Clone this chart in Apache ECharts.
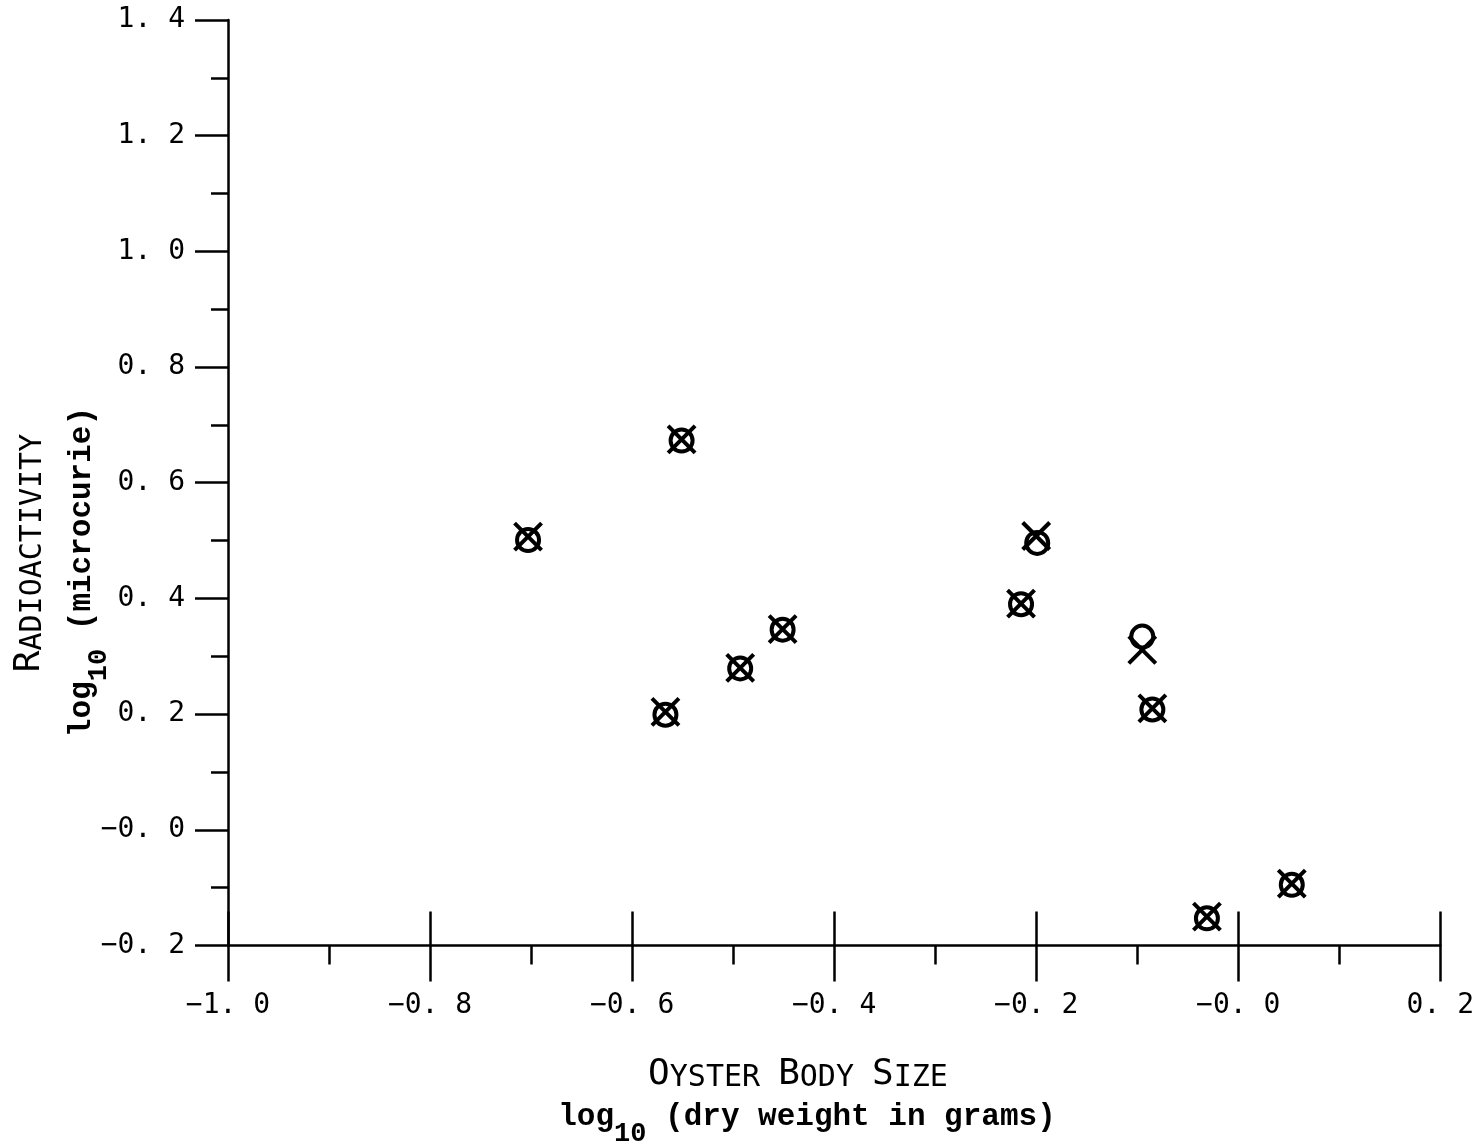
<!DOCTYPE html>
<html><head><meta charset="utf-8">
<script src="https://cdn.jsdelivr.net/npm/echarts@6/dist/echarts.min.js"></script>
<style>html,body{margin:0;padding:0;background:#fff}#c{width:1477px;height:1147px}</style>
</head><body><div id="c"></div>
<script>
// ---- data ----
const xMin = -1.0, xMax = 0.2, xStep = 0.2;
const yMin = -0.2, yMax = 1.4, yStep = 0.2;
const xTickLabels = ['−1. 0', '−0. 8', '−0. 6', '−0. 4', '−0. 2', '−0. 0', '0. 2'];
const yTickLabels = ['−0. 2', '−0. 0', '0. 2', '0. 4', '0. 6', '0. 8', '1. 0', '1. 2', '1. 4'];
// circle markers
const circleX = [-0.703, -0.551, -0.567, -0.493, -0.451, -0.215, -0.199, -0.095, -0.085, -0.031, 0.053];
const circleY = [0.501, 0.673, 0.199, 0.279, 0.346, 0.390, 0.496, 0.334, 0.208, -0.153, -0.095];
// cross markers
const crossX = [-0.703, -0.551, -0.567, -0.493, -0.451, -0.215, -0.200, -0.095, -0.085, -0.031, 0.053];
const crossY = [0.507, 0.675, 0.204, 0.280, 0.347, 0.391, 0.508, 0.311, 0.210, -0.150, -0.093];

const xTitleBig = ['O', 'B', 'S'];
const xTitleSmall = ['YSTER', 'ODY', 'IZE'];
const yTitleBig = 'R', yTitleSmall = 'ADIOACTIVITY';
const xSub = ['log', '10', ' (dry weight in grams)'];
const ySub = ['log', '10', ' (microcurie)'];

// ---- chart ----
const ink = '#000';
const capsFont = "'DejaVu Sans Mono', 'Liberation Mono', monospace";
const monoFont = "'Liberation Mono', 'DejaVu Sans Mono', monospace";
const tickFont = "'DejaVu Sans Mono', monospace";

function xLabel(v) { return xTickLabels[Math.round((v - xMin) / xStep)]; }
function yLabel(v) { return yTickLabels[Math.round((v - yMin) / yStep)]; }

const capsRich = {
  b: { fontFamily: capsFont, fontSize: 36, color: ink, verticalAlign: 'bottom' },
  s: { fontFamily: capsFont, fontSize: 30, color: ink, verticalAlign: 'bottom' }
};
const subRich = {
  a: { fontFamily: monoFont, fontSize: 31, fontWeight: 'bold', color: ink },
  d: { fontFamily: monoFont, fontSize: 27, fontWeight: 'bold', color: ink, padding: [34, 0, 0, 0] }
};

const chart = echarts.init(document.getElementById('c'), null, { renderer: 'canvas' });
chart.setOption({
  backgroundColor: '#fff',
  animation: false,
  grid: { left: 228, right: 36, top: 20, bottom: 201.5 },
  xAxis: [{
    type: 'value', min: xMin, max: xMax, interval: xStep, position: 'bottom',
    axisLine: { show: true, onZero: false, lineStyle: { color: ink, width: 2.5 } },
    axisTick: { show: true, length: 36, lineStyle: { color: ink, width: 2.5 } },
    minorTick: { show: true, splitNumber: 2, length: 19, lineStyle: { color: ink, width: 2.5 } },
    splitLine: { show: false },
    axisLabel: { margin: 46, color: ink, fontFamily: tickFont, fontSize: 28, formatter: xLabel }
  }, {
    type: 'value', min: xMin, max: xMax, interval: xStep, position: 'bottom',
    axisLine: { show: false, onZero: false },
    axisTick: { show: true, inside: true, length: 34, lineStyle: { color: ink, width: 2.5 } },
    splitLine: { show: false },
    axisLabel: { show: false }
  }],
  yAxis: {
    type: 'value', min: yMin, max: yMax, interval: yStep,
    axisLine: { show: true, onZero: false, lineStyle: { color: ink, width: 2.5 } },
    axisTick: { show: true, length: 33, lineStyle: { color: ink, width: 2.5 } },
    minorTick: { show: true, splitNumber: 2, length: 17, lineStyle: { color: ink, width: 2.5 } },
    splitLine: { show: false },
    axisLabel: { margin: 43, color: ink, fontFamily: tickFont, fontSize: 28, formatter: yLabel }
  },
  series: [{
    type: 'scatter', name: 'circle',
    data: circleX.map((x, i) => [x, circleY[i]]),
    symbol: 'circle', symbolSize: 22,
    itemStyle: { color: 'rgba(0,0,0,0)', borderColor: ink, borderWidth: 4, opacity: 1 },
    z: 3
  }, {
    type: 'scatter', name: 'cross',
    data: crossX.map((x, i) => [x, crossY[i]]),
    symbol: 'path://M0,0L20,20M20,0L0,20', symbolSize: 27,
    itemStyle: { color: 'rgba(0,0,0,0)', borderColor: ink, borderWidth: 4, opacity: 1 },
    z: 4
  }],
  graphic: [{
    type: 'text', x: 798, y: 1075,
    style: {
      text: xTitleBig.map((b, i) => '{b|' + b + '}{s|' + xTitleSmall[i] + '}').join('{s| }'),
      align: 'center', verticalAlign: 'middle', rich: capsRich
    }
  }, {
    type: 'text', x: 807, y: 1117,
    style: {
      text: '{a|' + xSub[0] + '}{d|' + xSub[1] + '}{a|' + xSub[2] + '}',
      align: 'center', verticalAlign: 'middle', rich: subRich
    }
  }, {
    type: 'text', x: 30, y: 553, rotation: Math.PI / 2,
    style: {
      text: '{b|' + yTitleBig + '}{s|' + yTitleSmall + '}',
      align: 'center', verticalAlign: 'middle', rich: capsRich
    }
  }, {
    type: 'text', x: 82, y: 572, rotation: Math.PI / 2,
    style: {
      text: '{a|' + ySub[0] + '}{d|' + ySub[1] + '}{a|' + ySub[2] + '}',
      align: 'center', verticalAlign: 'middle', rich: subRich
    }
  }]
});
</script>
</body></html>
